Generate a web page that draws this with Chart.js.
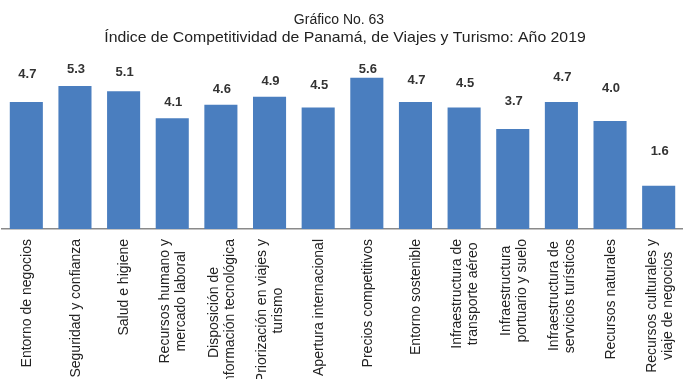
<!DOCTYPE html>
<html>
<head>
<meta charset="utf-8">
<script src="https://cdn.jsdelivr.net/npm/chart.js@4/dist/chart.umd.min.js"></script>
<style>
  html, body { margin: 0; padding: 0; background: #fff; overflow: hidden; }
  #wrap { width: 683px; height: 379px; }
</style>
</head>
<body>
<div id="wrap"><canvas id="chart"></canvas></div>
<script>
// Categories (x axis), one label per bar
const categories = [
  "Entorno de negocios",
  "Seguridad y confianza",
  "Salud e higiene",
  ["Recursos humano y", "mercado laboral"],
  ["Disposición de", "información tecnológica"],
  ["Priorización en viajes y", "turismo"],
  "Apertura internacional",
  "Precios competitivos",
  "Entorno sostenible",
  ["Infraestructura de", "transporte aéreo"],
  ["Infraestructura", "portuario y suelo"],
  ["Infraestructura de", "servicios turísticos"],
  "Recursos naturales",
  ["Recursos culturales y", "viaje de negocios"],
];

// Index values for 2019
const values = [4.7, 5.3, 5.1, 4.1, 4.6, 4.9, 4.5, 5.6, 4.7, 4.5, 3.7, 4.7, 4.0, 1.6];

// Title lines
const titleLines = ["Gráfico No. 63", "Índice de Competitividad de Panamá, de Viajes y Turismo: Año 2019"];

// How far each value label sits above its bar (px), as placed in the original
const labelLift = [28, 16, 19, 16, 15, 15, 22, 8, 22, 24, 28, 25, 33, 34];

const textColor = "#222";
const barColor = "#4a7ebf";
const fontFamily = "'Liberation Sans', Arial, sans-serif";

// Two-line title; the second line is set wide like the original
const titleBlock = {
  id: "titleBlock",
  afterDraw(chart) {
    const ctx = chart.ctx;
    ctx.save();
    ctx.fillStyle = textColor;
    ctx.textAlign = "center";
    ctx.textBaseline = "middle";
    ctx.font = "14px " + fontFamily;
    ctx.fillText(titleLines[0], 339, 20);
    ctx.font = "14.5px " + fontFamily;
    ctx.translate(345, 38);
    ctx.scale(1.09, 1);
    ctx.fillText(titleLines[1], 0, 0);
    ctx.restore();
  },
};

// Value labels above the bars
const valueLabels = {
  id: "valueLabels",
  afterDatasetsDraw(chart) {
    const ctx = chart.ctx;
    const meta = chart.getDatasetMeta(0);
    ctx.save();
    ctx.font = "bold 13px " + fontFamily;
    ctx.fillStyle = "#333";
    ctx.textAlign = "center";
    ctx.textBaseline = "middle";
    meta.data.forEach((bar, i) => {
      ctx.fillText(values[i].toFixed(1), bar.x + 1, bar.y - labelLift[i]);
    });
    ctx.restore();
  },
};

// Rotated category labels, lines centred on each other, block hanging from the axis
const categoryLabels = {
  id: "categoryLabels",
  afterDraw(chart) {
    const ctx = chart.ctx;
    const x = chart.scales.x;
    const top = chart.chartArea.bottom + 10;
    const lineH = 16;
    ctx.save();
    ctx.font = "14px " + fontFamily;
    ctx.fillStyle = textColor;
    ctx.textBaseline = "middle";
    ctx.textAlign = "center";
    categories.forEach((cat, i) => {
      const lines = Array.isArray(cat) ? cat : [cat];
      const maxW = Math.max(...lines.map((l) => ctx.measureText(l).width));
      const cx = x.getPixelForTick(i) + 1;
      ctx.save();
      ctx.translate(cx, top);
      ctx.rotate(-Math.PI / 2);
      lines.forEach((l, j) => {
        ctx.fillText(l, -maxW / 2, (j - (lines.length - 1) / 2) * lineH);
      });
      ctx.restore();
    });
    ctx.restore();
  },
};

new Chart(document.getElementById("chart"), {
  type: "bar",
  plugins: [titleBlock, valueLabels, categoryLabels],
  data: {
    labels: categories,
    datasets: [
      {
        data: values,
        backgroundColor: barColor,
        borderWidth: 0,
        barPercentage: 0.68,
        categoryPercentage: 1,
      },
    ],
  },
  options: {
    responsive: true,
    maintainAspectRatio: false,
    animation: false,
    layout: { padding: { left: 2, right: 0, top: 67, bottom: 150 } },
    plugins: {
      legend: { display: false },
      tooltip: { enabled: false },
      title: { display: false },
    },
    scales: {
      x: {
        grid: { display: false, drawTicks: false },
        border: { display: true, color: "#8a8a8a", width: 1.5 },
        ticks: { display: false },
      },
      y: {
        display: false,
        min: 0,
        max: 6,
      },
    },
  },
});
</script>
</body>
</html>
